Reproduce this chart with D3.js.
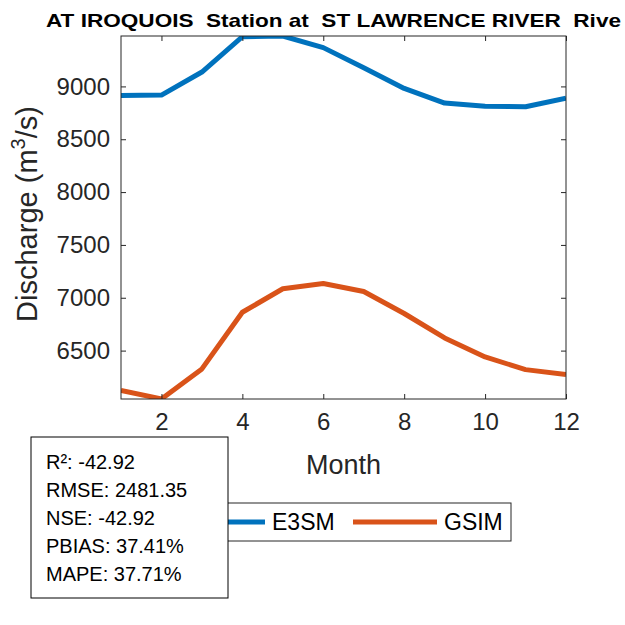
<!DOCTYPE html>
<html>
<head>
<meta charset="utf-8">
<script src="https://cdn.jsdelivr.net/npm/d3@7/dist/d3.min.js"></script>
<style>
  html, body { margin: 0; padding: 0; background: #fff; }
  svg { display: block; }
  text { font-family: "Liberation Sans", Arial, Helvetica, sans-serif; }
</style>
</head>
<body>
<svg id="chart" width="625" height="625"></svg>
<script>
const months = [1, 2, 3, 4, 5, 6, 7, 8, 9, 10, 11, 12];
const e3sm = [8915, 8918, 9136, 9470, 9477, 9367, 9177, 8981, 8842, 8813, 8808, 8889];
const gsim = [6124, 6042, 6327, 6863, 7085, 7135, 7059, 6851, 6620, 6440, 6320, 6273];
const xTicks = [2, 4, 6, 8, 10, 12];
const yTicks = [6500, 7000, 7500, 8000, 8500, 9000];
const seriesNames = ["E3SM", "GSIM"];
const statsLines = ["R²: -42.92", "RMSE: 2481.35", "NSE: -42.92", "PBIAS: 37.41%", "MAPE: 37.71%"];
const titleText = "AT IROQUOIS  Station at  ST LAWRENCE RIVER  Rive";

const colors = ["#0072BD", "#D95319"];
const axisColor = "#262626";
const L = 121, R = 566, T = 36, B = 399;

const svg = d3.select("#chart");
const x = d3.scaleLinear().domain([1, 12]).range([L, R]);
const allVals = e3sm.concat(gsim);
const y = d3.scaleLinear().domain(d3.extent(allVals)).range([B, T]);

svg.append("rect").attr("x", 0).attr("y", 0).attr("width", 625).attr("height", 625).attr("fill", "#fff");
svg.append("rect").attr("x", L).attr("y", T).attr("width", R - L).attr("height", B - T).attr("fill", "#fff");

svg.append("defs").append("clipPath").attr("id", "plotclip")
  .append("rect").attr("x", L).attr("y", T).attr("width", R - L).attr("height", B - T);

// lines
const line = d3.line().x((d, i) => x(months[i])).y(d => y(d));
const g = svg.append("g").attr("clip-path", "url(#plotclip)");
[e3sm, gsim].forEach((s, k) => {
  g.append("path").datum(s).attr("d", line).attr("fill", "none")
    .attr("stroke", colors[k]).attr("stroke-width", 5).attr("stroke-linejoin", "round");
});

// axes
const tickFont = "24px";
const xAxis = d3.axisBottom(x).tickValues(xTicks).tickSize(-5).tickPadding(14).tickFormat(d3.format("d"));
const xAxisTop = d3.axisTop(x).tickValues(xTicks).tickSize(-5).tickFormat("");
const yAxis = d3.axisLeft(y).tickValues(yTicks).tickSize(-5).tickPadding(11).tickFormat(d3.format("d"));
const yAxisRight = d3.axisRight(y).tickValues(yTicks).tickSize(-5).tickFormat("");

function styleAxis(sel) {
  sel.select(".domain").remove();
  sel.selectAll(".tick line").attr("stroke", axisColor).attr("stroke-width", 1);
  sel.selectAll(".tick text").attr("fill", axisColor).style("font-size", tickFont)
     .style("font-family", "'Liberation Sans', Arial, sans-serif");
}
svg.append("g").attr("transform", `translate(0,${B})`).call(xAxis).call(styleAxis);
svg.append("g").attr("transform", `translate(0,${T})`).call(xAxisTop).call(styleAxis);
svg.append("g").attr("transform", `translate(${L},0)`).call(yAxis).call(styleAxis);
svg.append("g").attr("transform", `translate(${R},0)`).call(yAxisRight).call(styleAxis);

svg.append("rect").attr("x", L).attr("y", T).attr("width", R - L).attr("height", B - T)
  .attr("fill", "none").attr("stroke", axisColor).attr("stroke-width", 1);

// title
svg.append("text").attr("x", 46).attr("y", 27).attr("text-anchor", "start")
  .attr("font-weight", "bold").attr("font-size", "19px").attr("fill", "#000")
  .attr("xml:space", "preserve").style("white-space", "pre")
  .attr("textLength", 575).attr("lengthAdjust", "spacingAndGlyphs")
  .text(titleText);

// x label
svg.append("text").attr("x", (L + R) / 2).attr("y", 474).attr("text-anchor", "middle")
  .attr("font-size", "27px").attr("fill", axisColor).text("Month");

// y label
const yl = svg.append("text").attr("transform", `translate(37,214) rotate(-90)`)
  .attr("text-anchor", "middle").attr("font-size", "29px").attr("fill", axisColor);
yl.append("tspan").text("Discharge (m");
yl.append("tspan").attr("font-size", "20px").attr("dy", -12).text("3");
yl.append("tspan").attr("dy", 12).text("/s)");

// legend
const lg = svg.append("g");
lg.append("rect").attr("x", 176).attr("y", 503).attr("width", 335).attr("height", 38)
  .attr("fill", "#fff").attr("stroke", axisColor).attr("stroke-width", 1);
const legX = [181, 353];
seriesNames.forEach((n, k) => {
  lg.append("line").attr("x1", legX[k]).attr("x2", legX[k] + 84).attr("y1", 522).attr("y2", 522)
    .attr("stroke", colors[k]).attr("stroke-width", 5);
  lg.append("text").attr("x", legX[k] + 91).attr("y", 530).attr("font-size", "23px")
    .attr("fill", "#000").text(n);
});

// stats box
const sb = svg.append("g");
sb.append("rect").attr("x", 31).attr("y", 437).attr("width", 197).attr("height", 161)
  .attr("fill", "#fff").attr("stroke", "#000").attr("stroke-width", 1);
statsLines.forEach((s, i) => {
  sb.append("text").attr("x", 46).attr("y", 469 + i * 28).attr("font-size", "20px")
    .attr("fill", "#000").text(s);
});
</script>
</body>
</html>
